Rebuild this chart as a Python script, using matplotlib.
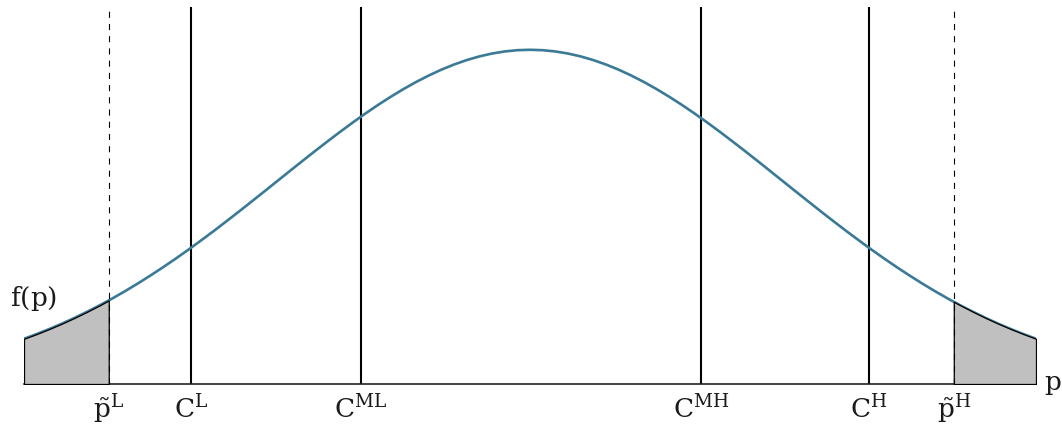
import numpy as np
import matplotlib.pyplot as plt
from matplotlib import transforms

plt.rcParams['mathtext.fontset'] = 'custom'
plt.rcParams['mathtext.rm'] = 'DejaVu Serif'
plt.rcParams['mathtext.it'] = 'DejaVu Serif'
plt.rcParams['font.family'] = 'DejaVu Serif'

p_mitad = [0.00, 0.05, 0.10, 0.15, 0.20, 0.25, 0.30, 0.35, 0.40, 0.45,
           0.50, 0.55, 0.60, 0.65, 0.70, 0.75, 0.80, 0.85, 0.90, 0.95,
           1.00, 1.05, 1.10, 1.15, 1.20, 1.25, 1.30, 1.35, 1.40, 1.45,
           1.50, 1.55, 1.60, 1.65, 1.665, 1.675, 1.70, 1.75, 1.80, 1.85, 1.90, 1.95, 2.00]
f_mitad = [1.000, 0.9988, 0.9950, 0.9888, 0.9802, 0.9692, 0.9560, 0.9406, 0.9231, 0.9037,
           0.8825, 0.8596, 0.8353, 0.8096, 0.7827, 0.7548, 0.7261, 0.6968, 0.6670, 0.6368,
           0.6065, 0.5762, 0.5461, 0.5162, 0.4868, 0.4578, 0.4296, 0.4020, 0.3753, 0.3495,
           0.3247, 0.3008, 0.2780, 0.2563, 0.2500, 0.2459, 0.2357, 0.2163, 0.1979, 0.1806, 0.1645, 0.1494, 0.1353]

# umbrales
p_L, p_H = -1.665, 1.675
cortes = [-1.34, -0.668, 0.675, 1.34]
etiq_cortes = [r'$\mathrm{C}^{\mathrm{L}}$', r'$\mathrm{C}^{\mathrm{ML}}$',
               r'$\mathrm{C}^{\mathrm{MH}}$', r'$\mathrm{C}^{\mathrm{H}}$']
etiq_p = [r'$\tilde{\mathrm{p}}^{\mathrm{L}}$', r'$\tilde{\mathrm{p}}^{\mathrm{H}}$']

p = np.concatenate([-np.array(p_mitad[:0:-1]), np.array(p_mitad)])
fp = np.concatenate([np.array(f_mitad[:0:-1]), np.array(f_mitad)])

fig = plt.figure(figsize=(10.62, 4.27), dpi=100)
ax = fig.add_axes([24/1062, 42/427, 1012/1062, 377/427])
ax.set_xlim(-2.0, 2.0)
ax.set_ylim(0, 1.128)
for s in ['top', 'right', 'left']:
    ax.spines[s].set_visible(False)
ax.spines['bottom'].set_color('#222222')
ax.spines['bottom'].set_linewidth(1.2)
ax.set_xticks([])
ax.set_yticks([])

# curva
ax.plot(p, fp, color='#3a7a96', lw=1.9, zorder=3)

# colas sombreadas
izq = p <= p_L + 1e-9
der = p >= p_H - 1e-9
ax.fill_between(p[izq], 0, fp[izq], facecolor='#c0c0c0', edgecolor='black', lw=0.9, zorder=4)
ax.fill_between(p[der], 0, fp[der], facecolor='#c0c0c0', edgecolor='black', lw=0.9, zorder=4)

# lineas verticales
for c in cortes:
    ax.axvline(c, color='black', lw=1.5, zorder=2)
for c in [p_L, p_H]:
    ax.axvline(c, color='black', lw=0.8, ls=(0, (5.5, 5.5)), zorder=5)

tr = transforms.blended_transform_factory(ax.transData, ax.transAxes)
fs = 19
for c, t in zip(cortes + [p_L, p_H], etiq_cortes + etiq_p):
    ax.text(c, -33/377, t, transform=tr, ha='center', va='baseline', fontsize=fs, color='#1a1a1a')

ax.text(-2.055, 0.26, r'$\mathrm{f(p)}$', ha='left', va='center', fontsize=fs,
        color='#1a1a1a', clip_on=False)
ax.text(2.032, 0.0, r'$\mathrm{p}$', ha='left', va='center', fontsize=fs,
        color='#1a1a1a', clip_on=False)

fig.savefig('out.png', dpi=100)
